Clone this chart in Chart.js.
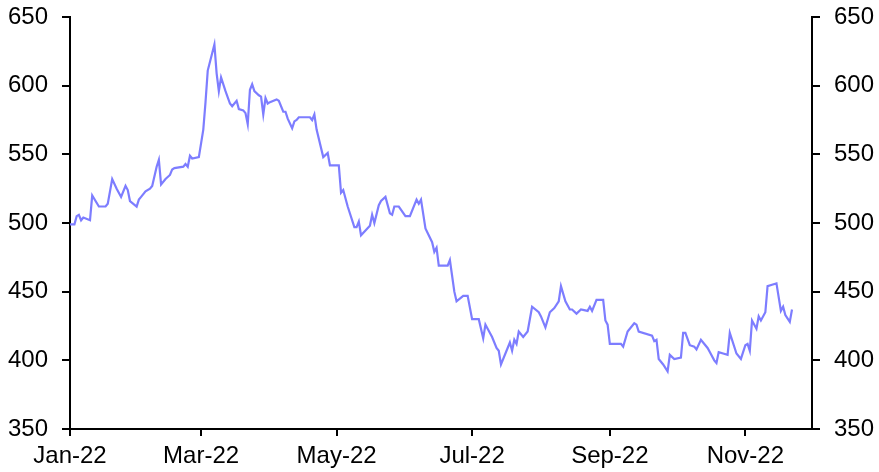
<!DOCTYPE html>
<html>
<head>
<meta charset="utf-8">
<script src="https://cdn.jsdelivr.net/npm/chart.js@4.4.0/dist/chart.umd.min.js"></script>
<style>
  body { margin: 0; background: #ffffff; }
  #box { width: 879px; height: 472px; }
</style>
</head>
<body>
<div id="box"><canvas id="priceChart"></canvas></div>
<script>

// days since 1 Jan 2022
var days = [0, 2, 3, 4, 5, 6, 9, 10, 13, 16, 17, 19, 21, 23, 25, 26, 27, 30, 31, 32,
  34, 36, 37, 39, 40, 41, 43, 45, 46, 47, 51, 52, 53, 54, 55, 58, 60, 61, 62, 65,
  66, 67, 68, 70, 72, 73, 75, 76, 78, 79, 80, 81, 82, 83, 85, 86, 87, 88, 89, 90,
  93, 94, 96, 97, 98, 100, 101, 102, 103, 108, 109, 110, 111, 114, 116, 117, 121, 122, 123, 125,
  128, 129, 130, 131, 135, 136, 137, 139, 140, 142, 144, 145, 146, 148, 151, 153, 156, 157, 158, 160,
  163, 164, 165, 166, 170, 171, 173, 174, 177, 179, 181, 184, 186, 187, 188, 190, 192, 193, 194, 198,
  199, 200, 201, 202, 204, 206, 208, 211, 212, 214, 216, 218, 220, 221, 223, 225, 226, 228, 230, 233,
  234, 235, 237, 240, 241, 242, 243, 248, 249, 251, 254, 255, 256, 262, 263, 264, 265, 267, 269, 270,
  272, 275, 276, 277, 279, 281, 282, 284, 287, 288, 290, 291, 292, 294, 296, 297, 300, 302, 304, 305,
  306, 307, 309, 310, 311, 313, 314, 316, 318, 320, 321, 322, 324, 325];

var prices = [499, 499, 505, 506, 502, 504, 502, 520, 512, 512, 514, 532, 525, 519, 527, 524, 516, 512, 517, 519,
  523, 525, 527, 541, 546, 528, 532, 535, 539, 540, 541, 543, 541, 549, 547, 548, 568, 588, 611, 630,
  609, 596, 606, 596, 587, 585, 589, 583, 582, 580, 572, 597, 601, 596, 593, 592, 579, 591, 587, 588,
  590, 589, 581, 581, 576, 569, 574, 575, 577, 577, 575, 579, 568, 548, 551, 542, 542, 522, 524, 512,
  497, 497, 501, 491, 498, 506, 500, 513, 516, 519, 507, 506, 512, 512, 505, 505, 517, 514, 517, 496,
  486, 479, 482, 469, 469, 473, 450, 443, 447, 447, 430, 430, 416, 426, 423, 417, 409, 407, 397, 413,
  407, 415, 412, 421, 417, 421, 439, 435, 432, 424, 435, 438, 443, 454, 443, 437, 437, 434, 437, 436,
  439, 436, 444, 444, 429, 426, 412, 412, 410, 421, 427, 426, 421, 418, 414, 415, 401, 397, 392, 404,
  401, 402, 420, 420, 411, 410, 408, 415, 409, 406, 400, 398, 406, 405, 404, 420, 405, 401, 411, 412,
  407, 429, 423, 432, 429, 435, 454, 455, 456, 436, 439, 433, 428, 437];

// tick positions (first day of month) and their labels
var tickDays = [0, 59, 120, 181, 243, 304];
var tickLabels = ['Jan-22', 'Mar-22', 'May-22', 'Jul-22', 'Sep-22', 'Nov-22'];

var yMin = 350;
var yMax = 650;
var yStep = 50;

function priceChart() {

  var points = [];
  for (var i = 0; i < days.length; i++) {
    points.push({ x: days[i], y: prices[i] });
  }

  var font = { family: "'Liberation Sans', Arial, sans-serif", size: 24 };

  var yAxis = function (pos, w) {
    return {
      type: 'linear',
      position: pos,
      display: true,
      min: yMin,
      max: yMax,
      ticks: { stepSize: yStep, color: '#000', font: font, padding: 14 },
      grid: { drawOnChartArea: false, drawTicks: true, tickLength: 8, color: '#000', lineWidth: 2 },
      border: { display: true, color: '#000', width: 2 },
      afterFit: function (scale) {
        scale.width = w;
        // keep the plot top where the reference has it
        scale.paddingTop = 0;
        scale.paddingBottom = 0;
      }
    };
  };

  var ctx = document.getElementById('priceChart').getContext('2d');
  var chart = new Chart(ctx, {
    type: 'line',
    data: {
      datasets: [{
        data: points,
        borderColor: '#7d7dff',
        borderWidth: 2.2,
        pointRadius: 0,
        tension: 0,
        yAxisID: 'y'
      }]
    },
    options: {
      responsive: true,
      maintainAspectRatio: false,
      animation: false,
      layout: { padding: { top: 17, left: 0, right: 0, bottom: 0 } },
      plugins: { legend: { display: false }, tooltip: { enabled: false } },
      scales: {
        x: {
          type: 'linear',
          min: 0,
          max: 334,
          afterBuildTicks: function (scale) {
            scale.ticks = tickDays.map(function (d) { return { value: d }; });
          },
          ticks: {
            color: '#000',
            font: font,
            padding: 6,
            maxRotation: 0,
            autoSkip: false,
            callback: function (value) {
              var k = tickDays.indexOf(value);
              return k >= 0 ? tickLabels[k] : '';
            }
          },
          grid: { drawOnChartArea: false, drawTicks: true, tickLength: 7, color: '#000', lineWidth: 2 },
          border: { display: true, color: '#000', width: 2 },
          afterFit: function (scale) { scale.height = 43; }
        },
        y: yAxis('left', 70),
        y2: yAxis('right', 67)
      }
    }
  });
}

function init() {
  priceChart();
}

init();

</script>
</body>
</html>
